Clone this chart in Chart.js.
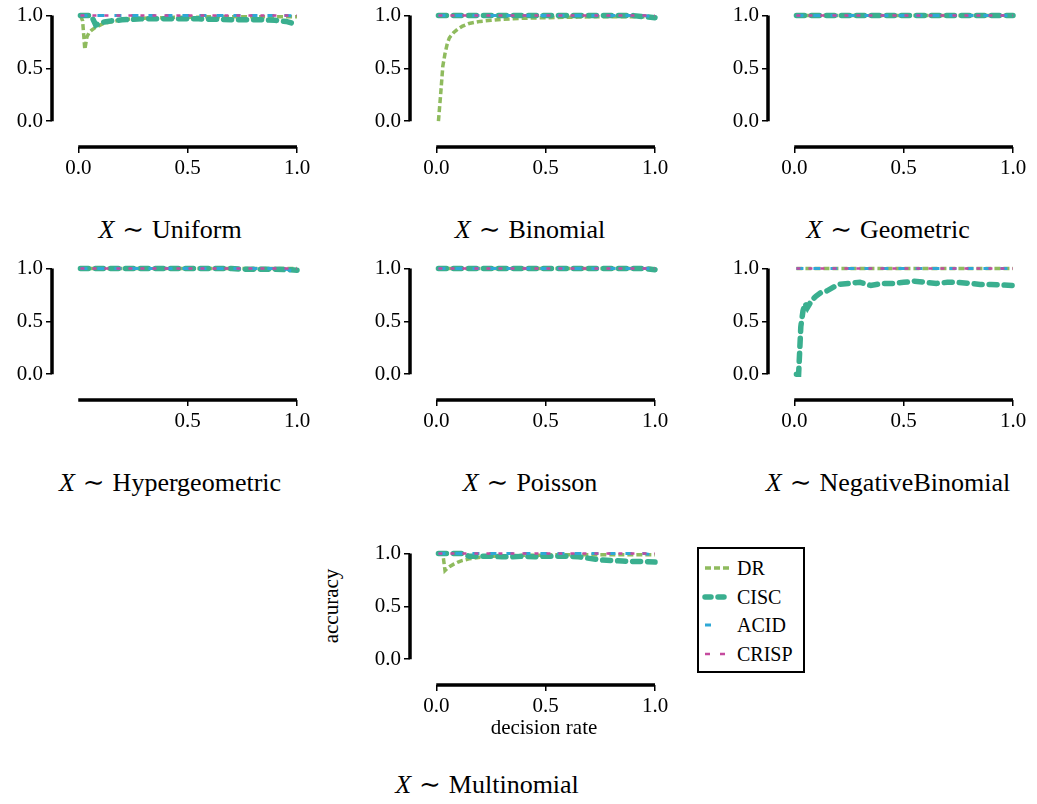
<!DOCTYPE html>
<html lang="en">
  <head>
    <meta charset="UTF-8" />
    <title>Accuracy vs decision rate</title>
    <script src="https://cdn.jsdelivr.net/npm/chart.js"></script>
    <style>
      body { margin: 0; background: #fff; font-family: "Liberation Serif", serif; color: #000; }
      #page { position: relative; width: 1037px; height: 804px; }
      canvas { position: absolute; }
      .title { position: absolute; width: 360px; text-align: center; font-family: "Liberation Serif", serif; font-size: 26px; line-height: 30px; white-space: nowrap; }
      .title i { font-style: italic; }
      .sim { margin: 0 8px; font-family: "Liberation Serif", "DejaVu Serif", serif; }
      .axis-title { position: absolute; font-size: 21px; line-height: 24px; text-align: center; white-space: nowrap; }
      #legend { position: absolute; left: 697px; top: 547px; width: 108px; height: 126px; box-sizing: border-box; border: 2px solid #000; background: #fff; }
      .entry { position: absolute; left: 3px; height: 24px; font-size: 20px; line-height: 24px; }
      .entry svg { position: absolute; left: 0; top: 7px; }
      .entry span { position: absolute; left: 35px; top: 0; }
    </style>
  </head>
  <body>
    <div id="page">
      <canvas id="cUniform" width="320" height="190" style="left:0px;top:0px"></canvas>
      <canvas id="cBinomial" width="320" height="190" style="left:358px;top:0px"></canvas>
      <canvas id="cGeometric" width="320" height="190" style="left:716px;top:0px"></canvas>
      <canvas id="cHyper" width="320" height="190" style="left:0px;top:253px"></canvas>
      <canvas id="cPoisson" width="320" height="190" style="left:358px;top:253px"></canvas>
      <canvas id="cNegBin" width="320" height="190" style="left:716px;top:253px"></canvas>
      <canvas id="cMulti" width="320" height="190" style="left:358px;top:538px"></canvas>

      <div class="title" style="left:-10px;top:215px"><i>X</i><span class="sim">∼</span>Uniform</div>
      <div class="title" style="left:350px;top:215px"><i>X</i><span class="sim">∼</span>Binomial</div>
      <div class="title" style="left:708px;top:215px"><i>X</i><span class="sim">∼</span>Geometric</div>
      <div class="title" style="left:-10px;top:468px"><i>X</i><span class="sim">∼</span>Hypergeometric</div>
      <div class="title" style="left:350px;top:468px"><i>X</i><span class="sim">∼</span>Poisson</div>
      <div class="title" style="left:708px;top:468px"><i>X</i><span class="sim">∼</span>NegativeBinomial</div>
      <div class="title" style="left:307px;top:770px"><i>X</i><span class="sim">∼</span>Multinomial</div>

      <div class="axis-title" style="left:444px;top:715px;width:200px">decision rate</div>
      <div class="axis-title" style="left:256px;top:594px;width:150px;transform:rotate(-90deg)">accuracy</div>

      <div id="legend"></div>
    </div>

    <script>
      // x values shared by every curve
      const decisionRate = [0.01, 0.02, 0.03, 0.04, 0.05, 0.06, 0.08, 0.10, 0.12, 0.15,
                            0.20, 0.25, 0.30, 0.35, 0.40, 0.45, 0.50, 0.55, 0.60, 0.65,
                            0.70, 0.75, 0.80, 0.85, 0.90, 0.95, 1.00];

      const yTicks = [0, 0.5, 1];
      const xTicks = [0, 0.5, 1];
      const xTicksHyper = [0.5, 1];

      // flat curves (accuracy 1.0 everywhere)
      const flatOne = [1, 1, 1, 1, 1, 1, 1, 1, 1, 1, 1, 1, 1, 1, 1, 1, 1, 1, 1, 1, 1, 1, 1, 1, 1, 1, 1];

      // Uniform
      const uniformDR   = [1.00, 0.95, 0.68, 0.80, 0.84, 0.86, 0.89, 0.91, 0.93, 0.94,
                           0.96, 0.97, 0.975, 0.98, 0.98, 0.985, 0.985, 0.985, 0.99, 0.99,
                           0.99, 0.99, 0.99, 0.99, 0.99, 0.99, 0.99];
      const uniformCISC = [1.00, 1.00, 1.00, 1.00, 1.00, 1.00, 0.91, 0.93, 0.94, 0.95,
                           0.96, 0.965, 0.97, 0.97, 0.97, 0.97, 0.97, 0.97, 0.965, 0.965,
                           0.96, 0.96, 0.96, 0.96, 0.955, 0.945, 0.915];
      const uniformACID = [1, 1, 1, 1, 1, 1, 1, 1, 1, 1, 1, 1, 1, 1, 1, 1, 1, 1, 1, 1, 1, 1, 1, 1, 1, 1, 0.995];

      // Binomial
      const binomialDR   = [0.00, 0.25, 0.52, 0.64, 0.73, 0.79, 0.84, 0.875, 0.90, 0.925,
                            0.945, 0.955, 0.965, 0.97, 0.975, 0.978, 0.98, 0.982, 0.984, 0.986,
                            0.988, 0.99, 0.99, 0.99, 0.99, 0.99, 0.99];
      const binomialCISC = [1, 1, 1, 1, 1, 1, 1, 1, 1, 1, 1, 1, 1, 1, 1, 1, 1, 1, 1, 1, 1, 1, 1, 1, 1, 0.99, 0.98];
      const binomialACID = [1, 1, 1, 1, 1, 1, 1, 1, 1, 1, 1, 1, 1, 1, 1, 1, 1, 1, 1, 1, 1, 1, 1, 1, 1, 1, 0.985];

      // Hypergeometric
      const hyperCISC = [1, 1, 1, 1, 1, 1, 1, 1, 1, 1, 1, 1, 1, 1, 1, 1, 1, 1, 1, 1, 1, 0.995, 0.995, 0.995, 0.995, 0.99, 0.985];
      const hyperACID = [1, 1, 1, 1, 1, 1, 1, 1, 1, 1, 1, 1, 1, 1, 1, 1, 1, 1, 1, 1, 1, 1, 1, 1, 1, 0.995, 0.96];

      // Poisson
      const poissonCISC = [1, 1, 1, 1, 1, 1, 1, 1, 1, 1, 1, 1, 1, 1, 1, 1, 1, 1, 1, 1, 1, 1, 1, 1, 1, 1, 0.99];

      // NegativeBinomial
      const negbinCISC = [0.00, 0.00, 0.45, 0.60, 0.67, 0.63, 0.70, 0.74, 0.77, 0.79,
                          0.85, 0.86, 0.87, 0.84, 0.86, 0.86, 0.87, 0.88, 0.87, 0.86,
                          0.87, 0.87, 0.86, 0.85, 0.85, 0.845, 0.84];

      // Multinomial
      const multiDR   = [1.00, 1.00, 1.00, 0.84, 0.86, 0.875, 0.90, 0.92, 0.935, 0.95,
                         0.965, 0.975, 0.98, 0.98, 0.985, 0.985, 0.985, 0.99, 0.99, 0.99,
                         0.99, 0.99, 0.99, 0.99, 0.99, 0.99, 0.99];
      const multiCISC = [1.00, 1.00, 1.00, 1.00, 1.00, 1.00, 1.00, 1.00, 1.00, 0.975,
                         0.975, 0.975, 0.97, 0.97, 0.975, 0.97, 0.975, 0.975, 0.975, 0.97,
                         0.955, 0.94, 0.935, 0.93, 0.925, 0.925, 0.92];
      const multiACID = [1, 1, 1, 1, 1, 1, 1, 1, 1, 1, 1, 1, 1, 1, 1, 1, 1, 1, 1, 1, 1, 1, 1, 1, 1, 1, 0.985];

      const methods = ['DR', 'CISC', 'ACID', 'CRISP'];

      // line look per method (drawing order: CRISP on top)
      const styles = {
        DR:    { color: '#8fbb5e', width: 3.5, dash: [6, 3],  legendDash: [6, 3],  cap: 'butt',  order: 4 },
        CISC:  { color: '#3aaf8f', width: 5.5, dash: [8, 7],  legendDash: [6, 7],  cap: 'round', order: 3 },
        ACID:  { color: '#2ea8d6', width: 3,   dash: [7, 10], legendDash: [6, 30], cap: 'butt',  order: 2 },
        CRISP: { color: '#c54a9e', width: 2.5, dash: [4, 8],  legendDash: [5, 10], cap: 'butt',  order: 1 }
      };

      const panels = [
        { id: 'cUniform',   ticks: xTicks,      series: { DR: uniformDR,  CISC: uniformCISC,  ACID: uniformACID,  CRISP: flatOne } },
        { id: 'cBinomial',  ticks: xTicks,      series: { DR: binomialDR, CISC: binomialCISC, ACID: binomialACID, CRISP: flatOne } },
        { id: 'cGeometric', ticks: xTicks,      series: { DR: flatOne,    CISC: flatOne,      ACID: flatOne,      CRISP: flatOne } },
        { id: 'cHyper',     ticks: xTicksHyper, series: { DR: flatOne,    CISC: hyperCISC,    ACID: hyperACID,    CRISP: flatOne } },
        { id: 'cPoisson',   ticks: xTicks,      series: { DR: flatOne,    CISC: poissonCISC,  ACID: flatOne,      CRISP: flatOne } },
        { id: 'cNegBin',    ticks: xTicks,      series: { DR: flatOne,    CISC: negbinCISC,   ACID: flatOne,      CRISP: flatOne } },
        { id: 'cMulti',     ticks: xTicks,      series: { DR: multiDR,    CISC: multiCISC,    ACID: multiACID,    CRISP: flatOne } }
      ];

      Chart.defaults.font.family = '"Liberation Serif", serif';
      Chart.defaults.font.size = 21;
      Chart.defaults.color = '#000';

      // seaborn-like trimmed, offset spines drawn along the scales' 0..1 range
      const spines = {
        id: 'spines',
        beforeDatasetsDraw(chart) {
          const { ctx, chartArea, scales } = chart;
          ctx.save();
          ctx.strokeStyle = '#000';
          ctx.lineWidth = 3.5;
          ctx.beginPath();
          ctx.moveTo(chartArea.left, scales.y.getPixelForValue(0));
          ctx.lineTo(chartArea.left, scales.y.getPixelForValue(1));
          ctx.moveTo(scales.x.getPixelForValue(0), chartArea.bottom);
          ctx.lineTo(scales.x.getPixelForValue(1), chartArea.bottom);
          ctx.stroke();
          ctx.restore();
        }
      };

      panels.forEach(p => {
        const datasets = methods.map(m => ({
          label: m,
          data: decisionRate.map((x, i) => ({ x: x, y: p.series[m][i] })),
          borderColor: styles[m].color,
          borderWidth: styles[m].width,
          borderDash: styles[m].dash,
          borderCapStyle: styles[m].cap,
          order: styles[m].order,
          pointRadius: 0,
          tension: 0,
          fill: false,
          clip: false
        }));

        new Chart(document.getElementById(p.id), {
          type: 'line',
          data: { datasets: datasets },
          plugins: [spines],
          options: {
            responsive: false,
            animation: false,
            devicePixelRatio: 1,
            layout: { padding: { top: 14, right: 23, left: 0, bottom: 0 } },
            plugins: { legend: { display: false }, tooltip: { enabled: false } },
            scales: {
              x: {
                type: 'linear',
                min: -0.12,
                max: 1,
                border: { display: false },
                grid: { drawOnChartArea: false, drawTicks: true, tickLength: 6, color: '#000', lineWidth: 1.5 },
                ticks: { padding: 3, autoSkip: false, maxRotation: 0, callback: v => v.toFixed(1) },
                afterBuildTicks: s => { s.ticks = p.ticks.map(v => ({ value: v })); },
                afterFit: s => { s.height = 43; }
              },
              y: {
                type: 'linear',
                min: -0.245,
                max: 1,
                border: { display: false },
                grid: { drawOnChartArea: false, drawTicks: true, tickLength: 6, color: '#000', lineWidth: 1.5 },
                ticks: { padding: 3, autoSkip: false, callback: v => v.toFixed(1) },
                afterBuildTicks: s => { s.ticks = yTicks.map(v => ({ value: v })); },
                afterFit: s => { s.width = 52; }
              }
            }
          }
        });
      });

      // legend box for the multinomial panel
      const legendEl = document.getElementById('legend');
      methods.forEach((m, i) => {
        const st = styles[m];
        const row = document.createElement('div');
        row.className = 'entry';
        row.style.top = (7 + i * 28.7) + 'px';
        row.innerHTML =
          '<svg width="30" height="10"><line x1="3" y1="5" x2="28" y2="5" stroke="' + st.color +
          '" stroke-width="' + st.width + '" stroke-dasharray="' + st.legendDash.join(' ') +
          '" stroke-linecap="' + st.cap + '"/></svg><span>' + m + '</span>';
        legendEl.appendChild(row);
      });
    </script>
  </body>
</html>
